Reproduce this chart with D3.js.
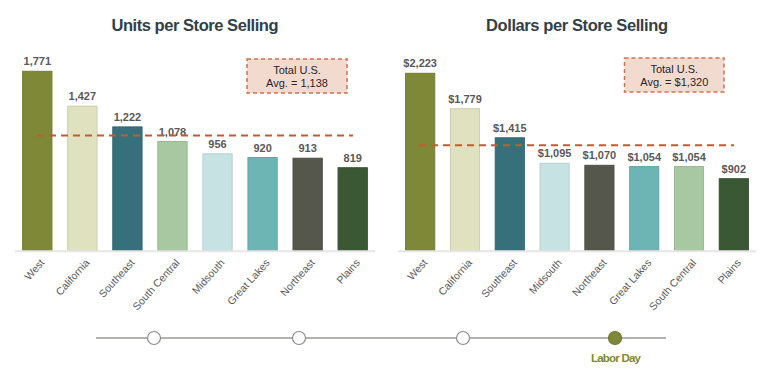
<!DOCTYPE html>
<html><head><meta charset="utf-8">
<script src="https://cdn.jsdelivr.net/npm/d3@7"></script>
<style>body{margin:0;background:#fff}svg{display:block}</style>
</head><body>
<svg id="c" width="768" height="370"></svg>
<script>
const unitsRegions = ["West","California","Southeast","South Central","Midsouth","Great Lakes","Northeast","Plains"];
const unitsValues = [1771,1427,1222,1078,956,920,913,819];
const unitsAvg = 1138;
const dollarsRegions = ["West","California","Southeast","Midsouth","Northeast","Great Lakes","South Central","Plains"];
const dollarsValues = [2223,1779,1415,1095,1070,1054,1054,902];
const dollarsAvg = 1320;
const timelineLabels = ["","","","Labor Day"];
const regionColors = {"West":"#7f8836","California":"#e0e1bf","Southeast":"#36717b","South Central":"#a7c8a0","Midsouth":"#c6e2e2","Great Lakes":"#6cb5b4","Northeast":"#56574c","Plains":"#3a5833"};

const svg = d3.select("#c");
const font = "'Liberation Sans', Arial, sans-serif";

function chart(opts){
  const {x0,x1,regions,values,avg,maxV,topY,title,fmt,avgFmt,box,avgX} = opts;
  const baseY = 250.7;
  const x = d3.scaleBand().domain(regions).range([x0,x1]).paddingInner(0.35).paddingOuter(0.17);
  const y = d3.scaleLinear().domain([0,maxV]).range([baseY, topY]);
  const g = svg.append("g");
  g.append("text").attr("x",(x0+x1)/2).attr("y",31).attr("text-anchor","middle")
    .attr("font-family",font).attr("font-weight","bold").attr("font-size",16.5)
    .attr("fill","#333f48").attr("textLength",opts.titleLen).text(title);
  g.selectAll("rect.bar").data(regions).join("rect").attr("class","bar")
    .attr("x",d=>x(d)).attr("width",x.bandwidth())
    .attr("y",(d,i)=>y(values[i])).attr("height",(d,i)=>baseY-y(values[i]))
    .attr("fill",d=>regionColors[d])
    .attr("stroke",d=>d3.color(regionColors[d]).darker(0.25)).attr("stroke-width",1);
  g.append("line").attr("x1",x0).attr("x2",x1).attr("y1",baseY+0.5).attr("y2",baseY+0.5)
    .attr("stroke","#e6e6e6").attr("stroke-width",2);
  g.selectAll("text.val").data(regions).join("text").attr("class","val")
    .attr("x",d=>x(d)+x.bandwidth()/2).attr("y",(d,i)=>y(values[i])-6)
    .attr("text-anchor","middle").attr("font-family",font).attr("font-weight","bold")
    .attr("font-size",11).attr("fill","#595959").text((d,i)=>fmt(values[i]));
  g.selectAll("text.cat").data(regions).join("text").attr("class","cat")
    .attr("transform",d=>`translate(${x(d)+x.bandwidth()/2+5},${baseY+10}) rotate(-48)`)
    .attr("text-anchor","end").attr("dy","0.35em").attr("font-family",font)
    .attr("font-size",10.5).attr("fill","#595959").text(d=>d);
  g.append("line").attr("x1",avgX[0]).attr("x2",avgX[1]).attr("y1",y(avg)).attr("y2",y(avg))
    .attr("stroke","#c55a32").attr("stroke-width",2).attr("stroke-dasharray","7,5");
  g.append("rect").attr("x",box[0]).attr("y",box[1]).attr("width",box[2]).attr("height",box[3])
    .attr("fill","#f3dacf").attr("stroke","#d0714e").attr("stroke-width",1.5).attr("stroke-dasharray","4,3");
  g.append("text").attr("x",box[0]+box[2]/2).attr("y",box[1]+15).attr("text-anchor","middle")
    .attr("font-family",font).attr("font-size",11).attr("fill","#262626").text("Total U.S.");
  g.append("text").attr("x",box[0]+box[2]/2).attr("y",box[1]+28).attr("text-anchor","middle")
    .attr("font-family",font).attr("font-size",11).attr("fill","#262626").text("Avg. = "+avgFmt(avg));
}

const comma = d3.format(",");
chart({x0:15,x1:375,regions:unitsRegions,values:unitsValues,avg:unitsAvg,
  maxV:1771, topY:71.3,
  title:"Units per Store Selling",titleLen:167,fmt:comma,avgFmt:comma,
  box:[247,59,100,34],avgX:[37,353]});
chart({x0:398,x1:756,regions:dollarsRegions,values:dollarsValues,avg:dollarsAvg,
  maxV:2223, topY:73.3,
  title:"Dollars per Store Selling",titleLen:182,fmt:v=>"$"+comma(v),avgFmt:v=>"$"+comma(v),
  box:[624.5,58,99.5,34],avgX:[419,734]});

// timeline
const tpos = [154,299,463,615];
const tl = svg.append("g");
tl.append("line").attr("x1",96).attr("x2",666).attr("y1",338).attr("y2",338)
  .attr("stroke","#9a9a96").attr("stroke-width",1.5);
tl.selectAll("circle").data(timelineLabels).join("circle")
  .attr("cx",(d,i)=>tpos[i]).attr("cy",338).attr("r",6.5)
  .attr("fill",d=>d?"#7f8836":"#fff").attr("stroke",d=>d?"#6f7830":"#8c8c8c").attr("stroke-width",1.2);
tl.selectAll("text").data(timelineLabels).join("text")
  .attr("x",(d,i)=>tpos[i]+1).attr("y",362).attr("text-anchor","middle")
  .attr("font-family",font).attr("font-weight","bold").attr("font-size",11.5)
  .attr("fill","#7f8836").attr("textLength",d=>d?50:null).text(d=>d);
</script>
</body></html>
